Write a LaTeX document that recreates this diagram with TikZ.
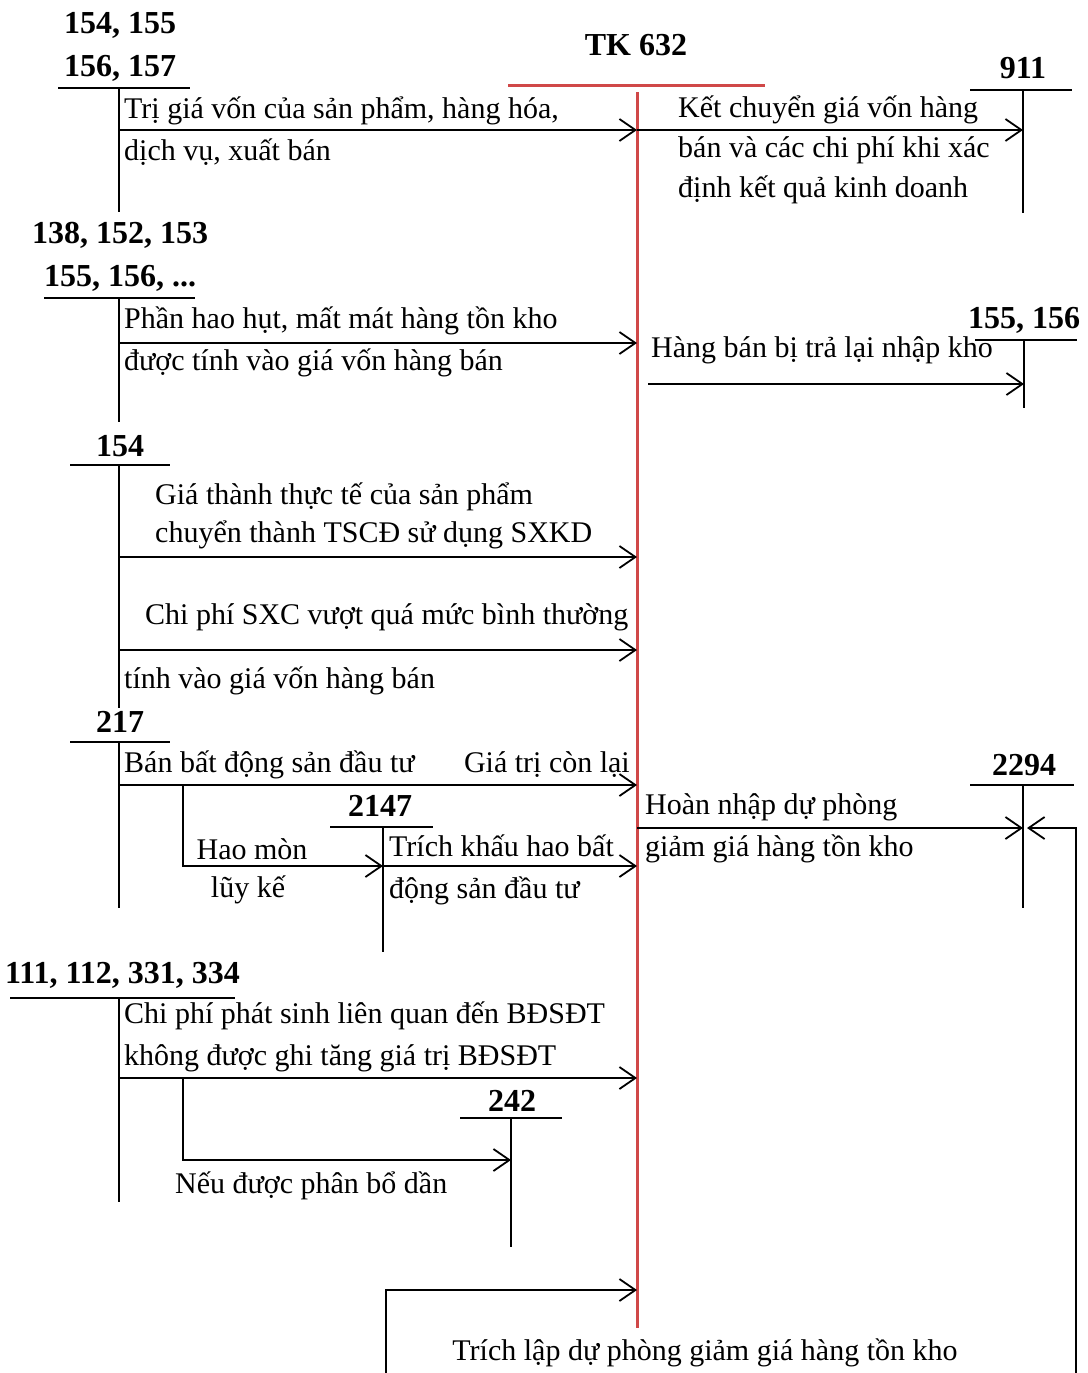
\documentclass[tikz,border=0pt]{standalone}
\usepackage{fontspec}
\setmainfont{Liberation Serif}
\usetikzlibrary{arrows.meta, positioning, calc}
\definecolor{tkmau}{RGB}{208,72,72}

\begin{document}
\begin{tikzpicture}[
		x=1pt, y=-1pt,
		font=\fontsize{30}{42}\selectfont,
		so/.style={
			inner sep=0pt,
			align=center,
			font=\fontsize{32}{43}\selectfont\bfseries
		},
		txt/.style={
			inner sep=0pt,
			align=left,
			anchor=west
		},
		tline/.style={
			line width=1.8pt
		},
		tkline/.style={
			line width=3pt,
			draw=tkmau
		},
		fl/.style={
			line width=1.8pt,
			-{Straight Barb[length=16pt,width=22pt,line width=1.8pt]}
		}
		]
		\useasboundingbox (0,0) rectangle (1087,1373);
		
		% TK 632
		\node[so] (t632) at (636,45) {TK 632};
		\draw[tkline] (508,85) -- (765,85);
		\coordinate (tk) at (637,92);
		\draw[tkline] (tk) -- (637,1328);
		
		% 154, 155, 156, 157
		\node[so] (s154) at (120,47) {154, 155\\156, 157};
		\draw[tline] (58,88) -- (190,88);
		\coordinate (v154) at (119,88);
		\draw[tline] (v154) -- ++(0,124);
		\draw[fl] (v154 |- 0,130) -- (tk |- 0,130);
		\node[txt] (d1) at (124,131)
		{Trị giá vốn của sản phẩm, hàng hóa,\\dịch vụ, xuất bán};
		
		% 911
		\node[so] (s911) at (1023,68) {911};
		\draw[tline] (970,90) -- (1072,90);
		\coordinate (v911) at (1023,90);
		\draw[tline] (v911) -- ++(0,123);
		\draw[fl] (tk |- 0,130) -- (v911 |- 0,130);
		\node[txt, font=\fontsize{30}{40}\selectfont] (d2) at (678,150)
		{Kết chuyển giá vốn hàng\\bán và các chi phí khi xác\\định kết quả kinh doanh};
		
		% 138, 152, 153, 155, 156
		\node[so] (s138) at (120,257) {138, 152, 153\\155, 156, ...};
		\draw[tline] (44,298) -- (195,298);
		\coordinate (v138) at (119,298);
		\draw[tline] (v138) -- ++(0,124);
		\draw[fl] (v138 |- 0,343) -- (tk |- 0,343);
		\node[txt] (d3) at (124,342)
		{Phần hao hụt, mất mát hàng tồn kho\\được tính vào giá vốn hàng bán};
		
		% 155, 156 (nhập kho)
		\node[so] (s155) at (1024,320) {155, 156};
		\draw[tline] (975,340) -- (1077,340);
		\coordinate (v155) at (1024,340);
		\draw[tline] (v155) -- ++(0,68);
		\coordinate (h155) at (648,384);
		\draw[fl] (h155) -- (v155 |- h155);
		\node[txt] (d4) at (651,350) {Hàng bán bị trả lại nhập kho};
		
		% 154
		\node[so] (s154b) at (120,446) {154};
		\draw[tline] (70,465) -- (170,465);
		\coordinate (v154b) at (119,465);
		\draw[tline] (v154b) -- ++(0,243);
		\draw[fl, line width=2.4pt] (v154b |- 0,557) -- (tk |- 0,557);
		\node[txt, font=\fontsize{30}{38}\selectfont] (d5) at (155,516)
		{Giá thành thực tế của sản phẩm\\chuyển thành TSCĐ sử dụng SXKD};
		\draw[fl, line width=2.4pt] (v154b |- 0,650) -- (tk |- 0,650);
		\node[txt] (d6) at (145,617) {Chi phí SXC vượt quá mức bình thường};
		\node[txt] (d7) at (124,681) {tính vào giá vốn hàng bán};
		
		% 217
		\node[so] (s217) at (120,722) {217};
		\draw[tline] (70,742) -- (170,742);
		\coordinate (v217) at (119,742);
		\draw[tline] (v217) -- ++(0,166);
		\draw[fl] (v217 |- 0,785) -- (tk |- 0,785);
		\node[txt] (d8) at (124,765) {Bán bất động sản đầu tư};
		\node[inner sep=0pt, anchor=east] (d9) at (630,765) {Giá trị còn lại};
		
		% 2147
		\node[so] (s2147) at (380,806) {2147};
		\draw[tline] (330,827) -- (433,827);
		\coordinate (v2147) at (383,827);
		\draw[tline] (v2147) -- ++(0,125);
		\coordinate (b217) at (183,785);
		\draw[fl] (b217) |- (v2147 |- 0,866);
		\node[inner sep=0pt] (d10) at (252,849) {Hao mòn};
		\node[inner sep=0pt] (d11) at (248,890) {lũy kế};
		\draw[fl] (v2147 |- 0,866) -- (tk |- 0,866);
		\node[txt] (d12) at (389,870) {Trích khấu hao bất\\động sản đầu tư};
		
		% 2294
		\node[so] (s2294) at (1024,765) {2294};
		\draw[tline] (970,785) -- (1074,785);
		\coordinate (v2294) at (1023,785);
		\draw[tline] (v2294) -- ++(0,123);
		\draw[fl] (tk |- 0,828) -- (v2294 |- 0,828);
		\node[txt] (d13) at (645,828) {Hoàn nhập dự phòng\\giảm giá hàng tồn kho};
		\coordinate (r2294) at (1076,1373);
		\draw[fl, shorten >=4pt] (r2294) |- (v2294 |- 0,828);
		
		% 111, 112, 331, 334
		\node[so, anchor=east] (s111) at (240,975) {111, 112, 331, 334};
		\draw[tline] (10,998) -- (235,998);
		\coordinate (v111) at (119,998);
		\draw[tline] (v111) -- ++(0,204);
		\draw[fl] (v111 |- 0,1078) -- (tk |- 0,1078);
		\node[txt] (d14) at (124,1037)
		{Chi phí phát sinh liên quan đến BĐSĐT\\không được ghi tăng giá trị BĐSĐT};
		
		% 242
		\node[so] (s242) at (512,1101) {242};
		\draw[tline] (460,1118) -- (562,1118);
		\coordinate (v242) at (511,1118);
		\draw[tline] (v242) -- ++(0,129);
		\coordinate (b111) at (183,1078);
		\draw[fl] (b111) |- (v242 |- 0,1160);
		\node[txt] (d15) at (175,1186) {Nếu được phân bổ dần};
		
		% Trích lập dự phòng
		\coordinate (l2294) at (386,1373);
		\draw[fl] (l2294) |- (tk |- 0,1290);
		\node[inner sep=0pt] (d16) at (705,1353) {Trích lập dự phòng giảm giá hàng tồn kho};
		
	\end{tikzpicture}
\end{document}
